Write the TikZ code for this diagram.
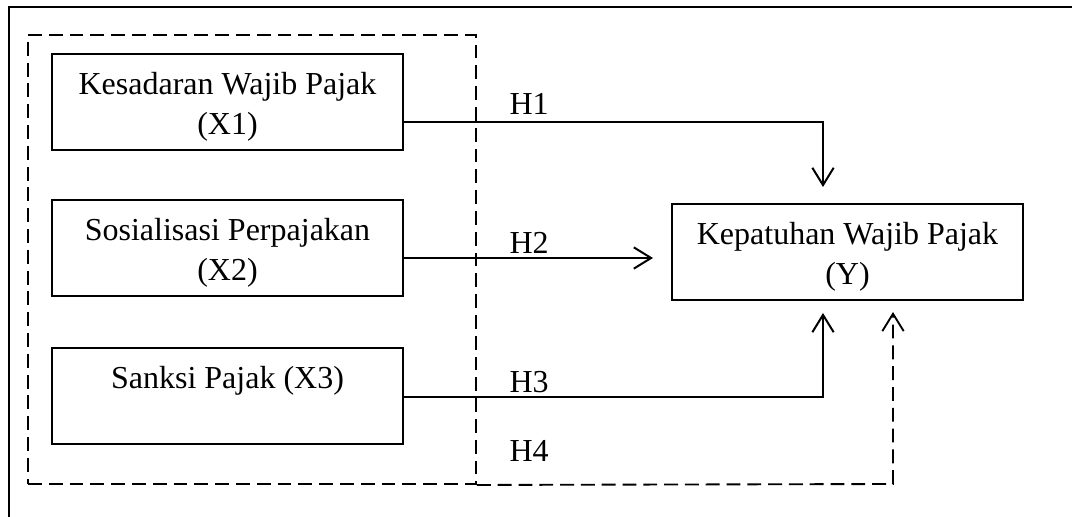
\documentclass[tikz,border=0pt]{standalone}
\usepackage{fontspec}
\setmainfont{Liberation Serif}
\usetikzlibrary{arrows.meta}

\newcommand{\boxtop}{\rule{0pt}{12pt}}

\tikzset{
  varbox/.style={draw, line width=0.45pt, minimum width=131.6pt, minimum height=36pt, align=center, inner sep=2pt},
  hyp/.style={anchor=base west, inner sep=0pt},
  link/.style={line width=0.75pt},
  grpline/.style={line width=0.7pt, dash pattern=on 5.2pt off 2.6pt},
}

\begin{document}
\begin{tikzpicture}[x=0.375pt, y=-0.375pt, >={Straight Barb[length=6.5pt,width=8pt]}, font=\fontsize{12}{15}\selectfont]
\useasboundingbox (0,0) rectangle (1072,517);
% outer frame
\draw[line width=0.7pt] (9,517) -- (9,7) -- (1072,7);

% independent variables
\node (grp) [grpline, draw, minimum width=168pt, minimum height=168.4pt, inner sep=0pt] at (252,259.5) {};
\node (X1) [varbox] at (227.5,102) {\boxtop Kesadaran Wajib Pajak\\(X1)};
\node (X2) [varbox] at (227.5,248) {\boxtop Sosialisasi Perpajakan\\(X2)};
\node (X3) [varbox] at (227.5,396) {\boxtop Sanksi Pajak (X3)\\ \vphantom{(}};
% dependent variable
\node (Y) [varbox] at (847.5,252) {\boxtop Kepatuhan Wajib Pajak\\(Y)};

% bends and arrow ends
\coordinate (b1) at (823,122);
\coordinate (t1) at (823,187);
\coordinate (t2) at (653,258);
\coordinate (b3) at (823,397);
\coordinate (t3) at (823,313);
\coordinate (b4) at (893,484);
\coordinate (t4) at (893,312);

\draw[link,->] (X1.east |- b1) -- (b1) -- (t1);
\draw[link,->] (X2.east |- t2) -- (t2);
\draw[link,->] (X3.east |- b3) -- (b3) -- (t3);
\draw[grpline,->] (grp.south east) -- (b4) -- (t4);

\node (h1) [hyp] at (509,115) {H1};
\node (h2) [hyp] at (509,253) {H2};
\node (h3) [hyp] at (509,392) {H3};
\node (h4) [hyp] at (509,461) {H4};
\end{tikzpicture}
\end{document}
